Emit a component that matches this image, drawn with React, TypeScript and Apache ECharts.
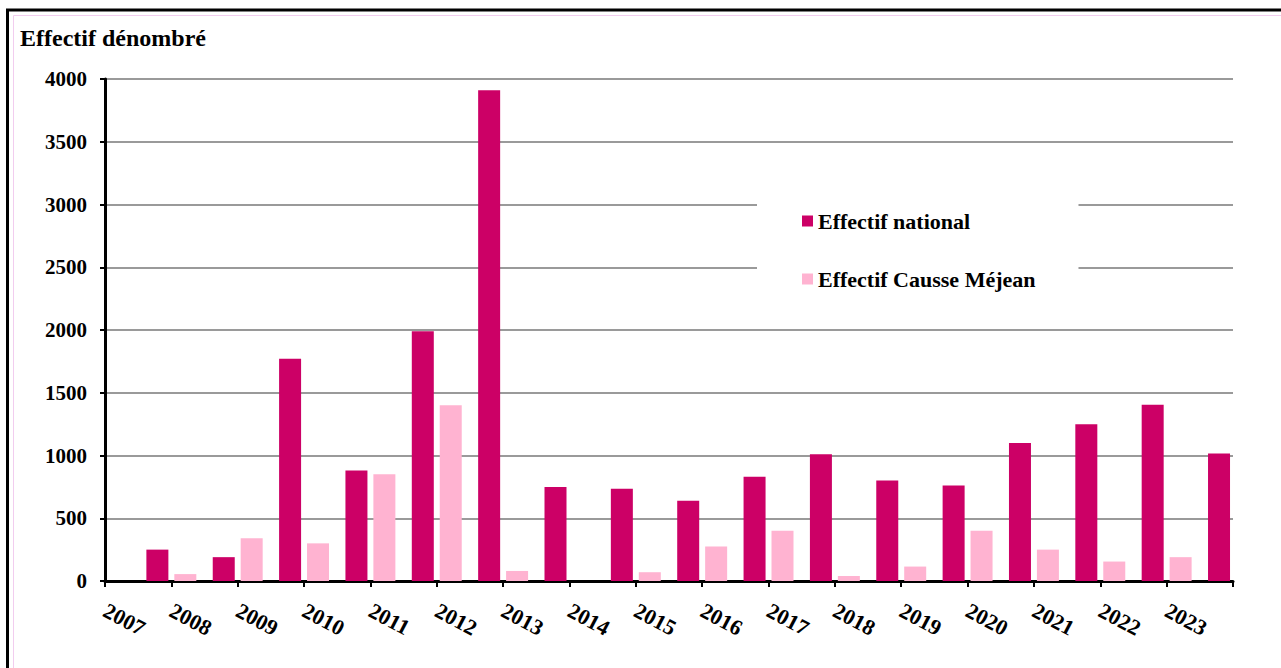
import { useEffect, useRef } from 'react';
import * as echarts from 'echarts';

// Year labels on the ticks; the final tick carries the last (unlabelled) group.
const years = [
  '2007', '2008', '2009', '2010', '2011', '2012', '2013', '2014', '2015',
  '2016', '2017', '2018', '2019', '2020', '2021', '2022', '2023', '',
];

// Counted numbers per tick position.
const nationalCounts = [
  null, 250, 190, 1770, 880, 1990, 3910, 750, 735,
  640, 830, 1010, 800, 760, 1100, 1250, 1405, 1015,
];
const causseCounts = [
  null, 55, 340, 300, 850, 1400, 80, 0, 70,
  275, 400, 40, 115, 400, 250, 155, 190, null,
];

const yMin = 0;
const yMax = 4000;
const yStep = 500;

const seriesNames = ['Effectif national', 'Effectif Causse Méjean'];
const seriesColors = ['#CC0066', '#FFB3D1'];

const FONT = '"Liberation Serif", "Times New Roman", serif';

export default function App() {
  const ref = useRef<HTMLDivElement>(null);

  useEffect(() => {
    if (!ref.current) return;
    const chart = echarts.init(ref.current, undefined, { renderer: 'svg' });

    const labelStyle = {
      fontFamily: FONT,
      fontWeight: 'bold' as const,
      color: '#000',
    };

    chart.setOption({
      animation: false,
      backgroundColor: '#fff',
      textStyle: { fontFamily: FONT },
      grid: { left: 105, right: 48, top: 79, bottom: 87, containLabel: false },
      graphic: [
        {
          type: 'text',
          x: 20,
          y: 38,
          silent: true,
          style: {
            text: 'Effectif dénombré',
            font: `bold 24px ${FONT}`,
            fill: '#000',
            textVerticalAlign: 'middle',
            verticalAlign: 'middle',
          },
        },
        {
          type: 'rect',
          silent: true,
          z: 100,
          shape: { x: 7.5, y: 10, width: 1400, height: 800 },
          style: { fill: 'none', stroke: '#000', lineWidth: 3 },
        },
        {
          type: 'rect',
          silent: true,
          z: 100,
          shape: { x: 13.5, y: 15.5, width: 1400, height: 800 },
          style: { fill: 'none', stroke: '#F2CDEF', lineWidth: 1 },
        },
      ],
      legend: {
        orient: 'vertical',
        left: 757,
        top: 185,
        padding: [25, 43, 10, 45],
        backgroundColor: '#fff',
        itemWidth: 11,
        itemHeight: 11,
        itemGap: 36,
        icon: 'rect',
        textStyle: {
          fontFamily: FONT,
          fontWeight: 'bold',
          fontSize: 22,
          lineHeight: 22,
          color: '#000',
        },
        data: seriesNames,
      },
      xAxis: {
        type: 'category',
        data: years,
        boundaryGap: false,
        axisLine: { lineStyle: { color: '#000', width: 3 } },
        axisTick: { show: true, length: 6, lineStyle: { color: '#000', width: 2 } },
        axisLabel: { ...labelStyle, fontSize: 22, rotate: -28, margin: 28, interval: 0 },
        splitLine: { show: false },
      },
      yAxis: {
        type: 'value',
        min: yMin,
        max: yMax,
        interval: yStep,
        axisLine: { show: true, lineStyle: { color: '#000', width: 3 } },
        axisTick: { show: true, length: 5, lineStyle: { color: '#000', width: 2 } },
        axisLabel: {
          ...labelStyle,
          fontSize: 21,
          margin: 18,
          formatter: (v: number) => String(v),
        },
        splitLine: { show: true, lineStyle: { color: '#9A9A9A', width: 2 } },
      },
      series: [
        {
          name: seriesNames[0],
          type: 'bar',
          data: nationalCounts,
          barWidth: 22,
          barGap: '27%',
          itemStyle: { color: seriesColors[0] },
        },
        {
          name: seriesNames[1],
          type: 'bar',
          data: causseCounts,
          barWidth: 22,
          barGap: '27%',
          itemStyle: { color: seriesColors[1] },
        },
      ],
    });

    return () => chart.dispose();
  }, []);

  return (
    <div
      ref={ref}
      style={{ position: 'absolute', left: 0, top: 0, width: 1281, height: 668 }}
    />
  );
}
